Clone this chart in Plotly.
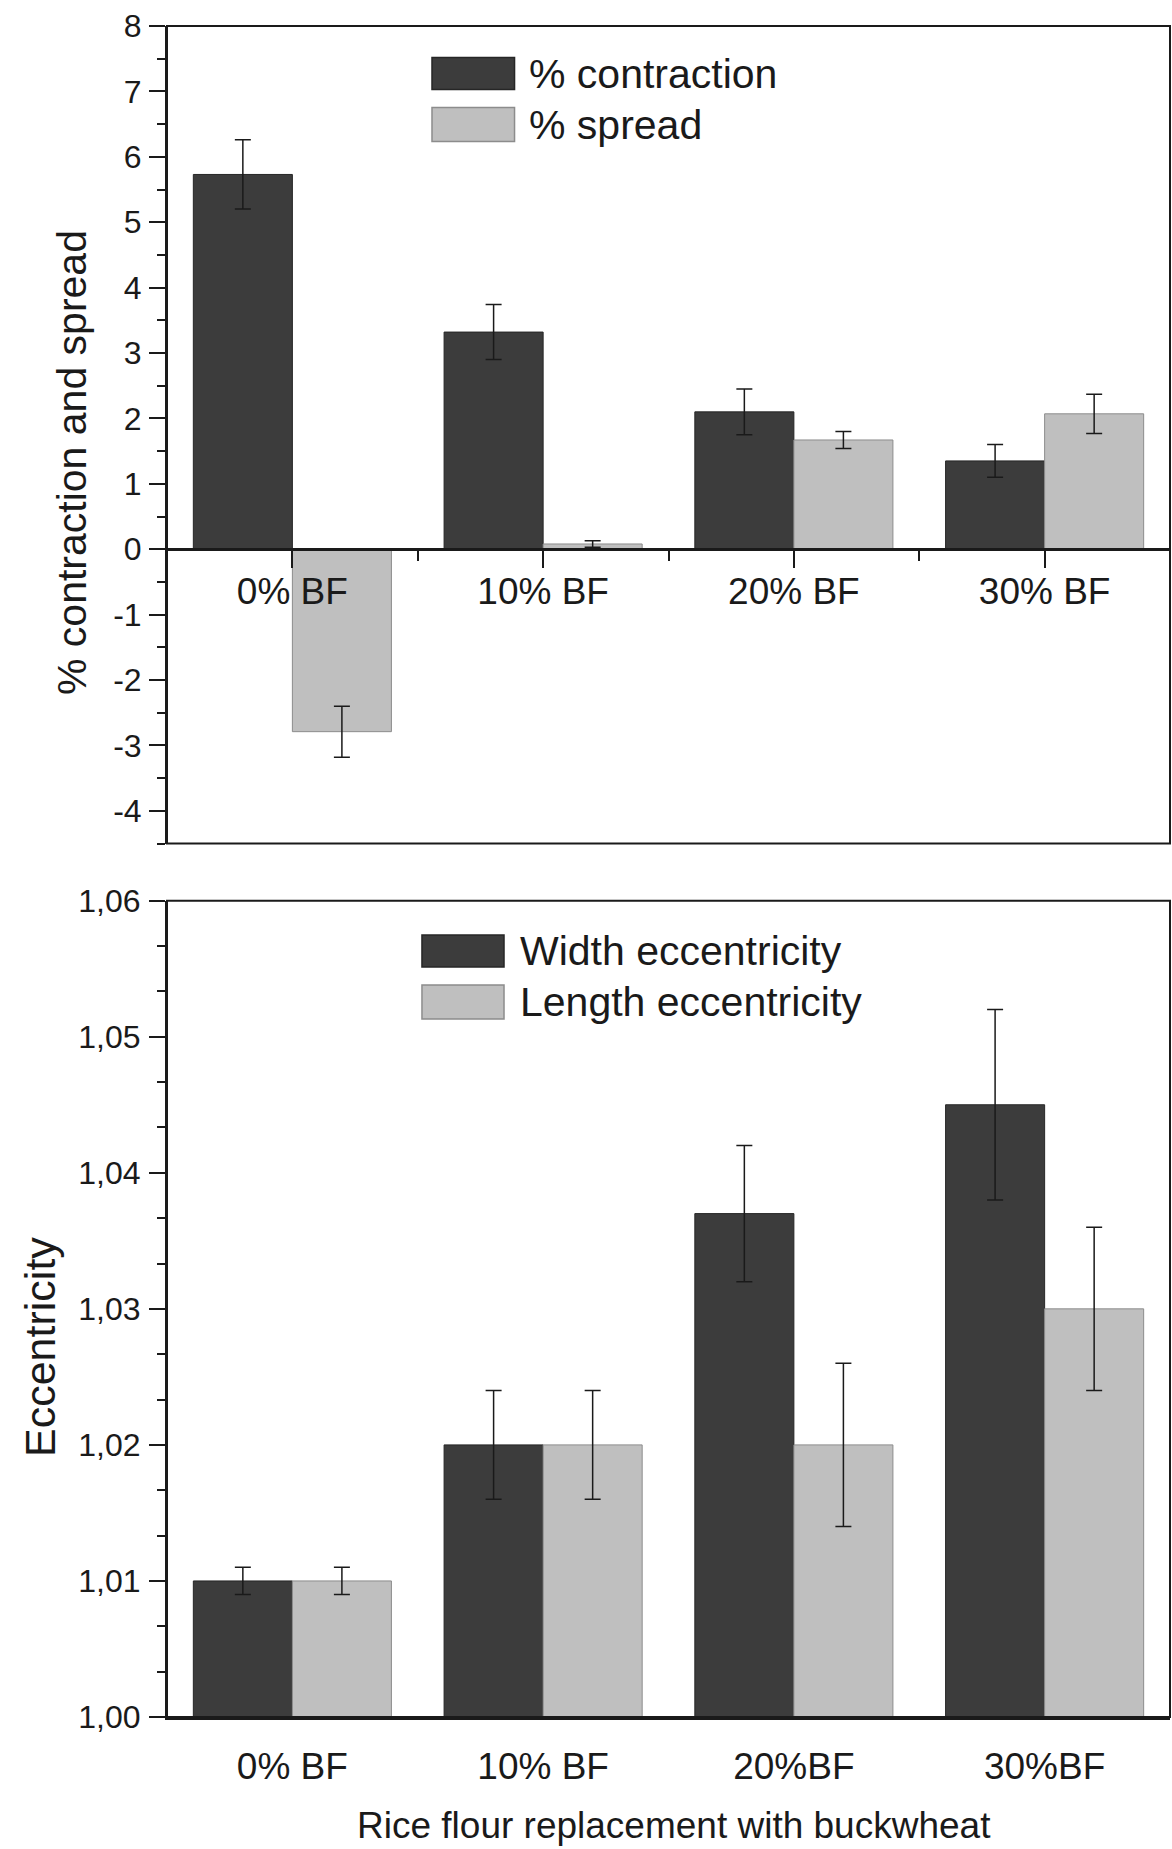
import plotly.graph_objects as go

# ---------------- data ----------------
categories_top = ["0% BF", "10% BF", "20% BF", "30% BF"]
categories_bottom = ["0% BF", "10% BF", "20%BF", "30%BF"]

contraction = [5.73, 3.32, 2.10, 1.35]
contraction_err = [0.53, 0.42, 0.35, 0.25]
spread = [-2.79, 0.08, 1.67, 2.07]
spread_err = [0.39, 0.05, 0.13, 0.30]

width_ecc = [1.010, 1.020, 1.037, 1.045]
width_ecc_err = [0.001, 0.004, 0.005, 0.007]
length_ecc = [1.010, 1.020, 1.020, 1.030]
length_ecc_err = [0.001, 0.004, 0.006, 0.006]

top_yticks = [-4, -3, -2, -1, 0, 1, 2, 3, 4, 5, 6, 7, 8]

# ---------------- style ----------------
DARK = "#3c3c3c"
LIGHT = "#bfbfbf"
INK = "#1a1a1a"
FONT = "Liberation Sans, Arial, sans-serif"

W, H = 1172, 1849
L, R, T, B = 167, 2, 26, 132
plot_h = H - T - B
plot_w = W - L - R
top_dom = [(H - B - 843.5) / plot_h, 1.0]
bot_dom = [0.0, (H - B - 900.7) / plot_h]

y1_range = [-4.5, 8]
zero_pos = top_dom[0] + (0 - y1_range[0]) / (y1_range[1] - y1_range[0]) * (top_dom[1] - top_dom[0])

xi = list(range(len(categories_top)))

fig = go.Figure()

def bar(x, y, err, color, line_color, name, xa, ya):
    return go.Bar(
        x=x, y=y, name=name, xaxis=xa, yaxis=ya,
        marker=dict(color=color, line=dict(color=line_color, width=1)),
        error_y=dict(type="data", array=err, color=INK, thickness=1.5, width=8),
        showlegend=False,
    )

fig.add_trace(bar(xi, contraction, contraction_err, DARK, "#262626", "% contraction", "x", "y"))
fig.add_trace(bar(xi, spread, spread_err, LIGHT, "#8c8c8c", "% spread", "x", "y"))
fig.add_trace(bar(xi, width_ecc, width_ecc_err, DARK, "#262626", "Width eccentricity", "x2", "y2"))
fig.add_trace(bar(xi, length_ecc, length_ecc_err, LIGHT, "#8c8c8c", "Length eccentricity", "x2", "y2"))

xtickfont = dict(family=FONT, size=37, color=INK)
ytickfont = dict(family=FONT, size=32, color=INK)

fig.update_layout(
    width=W, height=H,
    margin=dict(l=L, r=R, t=T, b=B),
    paper_bgcolor="white", plot_bgcolor="white",
    barmode="group", bargap=0.21, bargroupgap=0.0,
    separators=",.",
    font=dict(family=FONT, color=INK),
    xaxis=dict(
        domain=[0, 1], anchor="free", position=zero_pos,
        range=[-0.5, 3.5], tickvals=xi, ticktext=categories_top,
        showline=True, linewidth=3, linecolor=INK,
        ticks="outside", ticklen=17, tickwidth=2, tickcolor=INK,
        minor=dict(tickvals=[0.5, 1.5, 2.5], ticks="outside", ticklen=10, tickwidth=2, tickcolor=INK),
        showgrid=False, zeroline=False, tickfont=xtickfont, ticklabelstandoff=-9,
    ),
    yaxis=dict(
        domain=top_dom, anchor="x", range=y1_range,
        tickvals=top_yticks, ticktext=[str(v) for v in top_yticks],
        showline=True, linewidth=2, linecolor=INK,
        ticks="outside", ticklen=16, tickwidth=2, tickcolor=INK,
        minor=dict(dtick=0.5, tick0=0, ticks="outside", ticklen=8, tickwidth=2, tickcolor=INK),
        showgrid=False, zeroline=False, tickfont=ytickfont, ticklabelstandoff=1,
    ),
    xaxis2=dict(
        domain=[0, 1], anchor="y2",
        range=[-0.5, 3.5], tickvals=xi, ticktext=categories_bottom,
        showline=True, linewidth=3, linecolor=INK, ticks="",
        showgrid=False, zeroline=False, tickfont=xtickfont, ticklabelstandoff=15,
    ),
    yaxis2=dict(
        domain=bot_dom, anchor="x2", range=[1.0, 1.06],
        tick0=1.0, dtick=0.01, tickformat=".2f",
        showline=True, linewidth=2, linecolor=INK,
        ticks="outside", ticklen=16, tickwidth=2, tickcolor=INK,
        minor=dict(dtick=0.01 / 3, tick0=1.0, ticks="outside", ticklen=8, tickwidth=2, tickcolor=INK),
        showgrid=False, zeroline=False, tickfont=ytickfont, ticklabelstandoff=2,
    ),
)

# frames
for xr, yr in (("x domain", "y domain"), ("x2 domain", "y2 domain")):
    fig.add_shape(type="rect", xref=xr, yref=yr, x0=0, x1=1, y0=0, y1=1,
                  line=dict(color=INK, width=2), fillcolor="rgba(0,0,0,0)", layer="above")

# manual legends
def legend(xr, yr, sx0, sx1, rows, tx):
    for (y0, y1, color, lc, label) in rows:
        fig.add_shape(type="rect", xref=xr, yref=yr, x0=sx0, x1=sx1, y0=y0, y1=y1,
                      fillcolor=color, line=dict(color=lc, width=1.5), layer="above")
        fig.add_annotation(xref=xr, yref=yr, x=tx, y=(y0 + y1) / 2, text=label,
                           showarrow=False, xanchor="left", yanchor="middle",
                           font=dict(family=FONT, size=41, color=INK))

legend("x domain", "y domain", 0.2642, 0.3465,
       [(0.9223, 0.9614, DARK, "#262626", "% contraction"),
        (0.8587, 0.9003, LIGHT, "#8c8c8c", "% spread")], 0.3589)
legend("x2 domain", "y2 domain", 0.2542, 0.3360,
       [(0.9188, 0.9580, DARK, "#262626", "Width eccentricity"),
        (0.8550, 0.8967, LIGHT, "#8c8c8c", "Length eccentricity")], 0.3500)

# axis titles
fig.add_annotation(xref="paper", yref="paper", x=(72 - L) / plot_w, y=(H - B - 463) / plot_h,
                   text="% contraction and spread", textangle=-90, showarrow=False,
                   xanchor="center", yanchor="middle", font=dict(family=FONT, size=41, color=INK))
fig.add_annotation(xref="paper", yref="paper", x=(40 - L) / plot_w, y=(H - B - 1347) / plot_h,
                   text="Eccentricity", textangle=-90, showarrow=False,
                   xanchor="center", yanchor="middle", font=dict(family=FONT, size=43, color=INK))
fig.add_annotation(xref="paper", yref="paper", x=(673.5 - L) / plot_w, y=(H - B - 1825) / plot_h,
                   text="Rice flour replacement with buckwheat", showarrow=False,
                   xanchor="center", yanchor="middle", font=dict(family=FONT, size=37, color=INK))

fig.write_html(
    "out.html",
    config={"displayModeBar": False},
    post_script="document.body.style.margin='0';document.body.style.overflow='hidden';",
)
